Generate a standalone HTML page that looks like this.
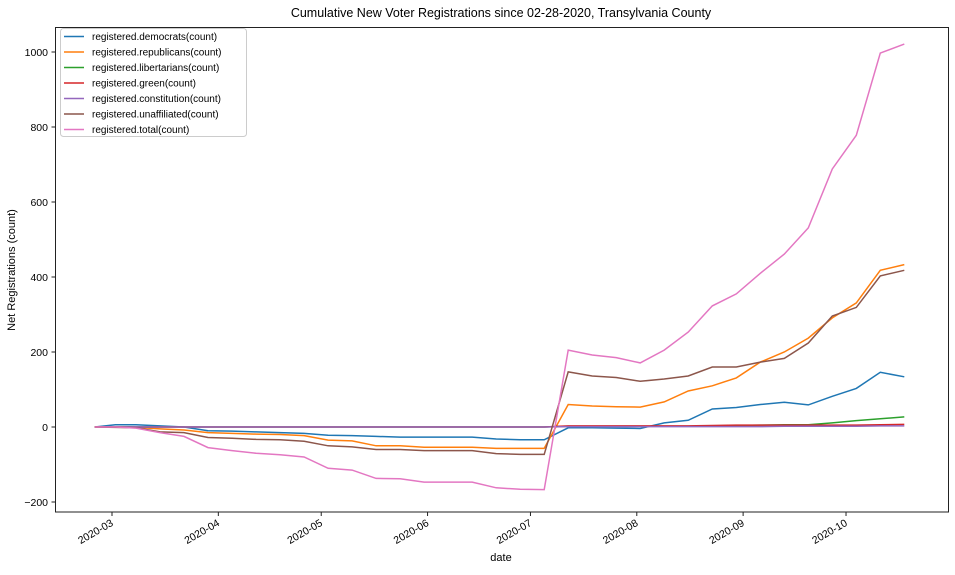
<!DOCTYPE html>
<html><head><meta charset="utf-8"><style>
body{margin:0;background:#fff;}
svg{font-family:"Liberation Sans","DejaVu Sans",sans-serif;}
</style></head><body>
<svg id="chart" width="955" height="570" xmlns="http://www.w3.org/2000/svg">
<rect width="955" height="570" fill="#fff"/>
<text x="501" y="17" text-anchor="middle" font-size="12.5">Cumulative New Voter Registrations since 02-28-2020, Transylvania County</text>
<g id="axes"></g>
<g id="series"></g>
<rect x="55.5" y="27.5" width="893" height="484.5" fill="none" stroke="#222" stroke-width="1"/>
<g id="legend"></g>
<text x="501" y="561" text-anchor="middle" font-size="11">date</text>
<text transform="translate(15,270) rotate(-90)" text-anchor="middle" font-size="11">Net Registrations (count)</text>
</svg>
<script>
// days offset from 2020-03-01
const days = [-5,1,7,14,21,28,35,42,49,56,63,70,77,84,91,98,105,112,119,126,133,140,147,154,161,168,175,182,189,196,203,210,217,224,231];
const seriesNames = ["registered.democrats(count)","registered.republicans(count)","registered.libertarians(count)","registered.green(count)","registered.constitution(count)","registered.unaffiliated(count)","registered.total(count)"];
const democrats = [0,6,6,3,0,-10,-11,-13,-15,-17,-22,-23,-25,-27,-27,-27,-27,-32,-34,-34,-2,-2,-3,-4,11,18,48,52,60,66,59,82,103,146,134];
const republicans = [0,0,-1,-5,-8,-15,-17,-19,-20,-23,-35,-37,-50,-50,-54,-54,-54,-57,-57,-57,60,56,54,53,67,96,110,131,173,200,237,291,331,418,433];
const libertarians = [0,0,0,0,0,0,0,0,0,0,0,0,0,0,0,0,0,0,0,0,2,2,2,2,2,2,3,4,5,6,6,11,17,22,27];
const green = [0,0,0,0,0,0,0,0,0,0,0,0,0,0,0,0,0,0,0,0,3,3,3,3,3,3,4,5,5,5,5,5,5,6,7];
const constitution = [0,0,0,0,0,0,0,0,0,0,0,0,0,0,0,0,0,0,0,0,1,1,1,1,1,1,1,1,1,2,2,2,2,3,3];
const unaffiliated = [0,-1,-2,-13,-15,-28,-30,-33,-34,-38,-50,-53,-60,-60,-63,-63,-63,-71,-73,-73,147,136,132,122,128,136,160,160,173,183,224,296,319,403,418];
const total = [0,0,-3,-15,-25,-55,-63,-70,-74,-80,-110,-115,-137,-138,-147,-147,-147,-162,-166,-167,205,192,185,171,205,253,323,355,410,461,531,688,778,997,1021];
const yTicks = [-200,0,200,400,600,800,1000];
const xTickDays = [0,31,61,92,122,153,184,214];
const xTickLabels = ["2020-03","2020-04","2020-05","2020-06","2020-07","2020-08","2020-09","2020-10"];
const colors = ["#1f77b4","#ff7f0e","#2ca02c","#d62728","#9467bd","#8c564b","#e377c2"];
const allSeries = [democrats,republicans,libertarians,green,constitution,unaffiliated,total];

const NS="http://www.w3.org/2000/svg";
function xs(d){return 112+d*3.43;}
function ys(v){return 427-v*0.375;}
function mk(tag,attrs,parent){const e=document.createElementNS(NS,tag);for(const k in attrs)e.setAttribute(k,attrs[k]);parent.appendChild(e);return e;}
const axes=document.getElementById('axes');
yTicks.forEach(v=>{
  const y=ys(v);
  const t=mk('line',{x1:51.5,x2:55.5,y1:y,y2:y,stroke:'#222'},axes);
  
  
  const l=mk('text',{x:48,y:y+4,'text-anchor':'end','font-size':'10.5'},axes);
  l.textContent=String(v).replace('-','\u2212');
  
  
});
xTickDays.forEach((d,i)=>{
  const x=xs(d);
  const t=mk('line',{x1:x,x2:x,y1:512,y2:516,stroke:'#222'},axes);
  
  
  const l=mk('text',{transform:`translate(${x+2},${525}) rotate(-30)`,'text-anchor':'end','font-size':'10.5'},axes);
  l.textContent=xTickLabels[i];
  
  
});
const sg=document.getElementById('series');
allSeries.forEach((s,i)=>{
  const pts=s.map((v,j)=>xs(days[j]).toFixed(1)+','+ys(v).toFixed(1)).join(' ');
  const p=mk('polyline',{points:pts,fill:'none',stroke:colors[i],'stroke-width':1.5},sg);
  
  
});
const lg=document.getElementById('legend');
const box=mk('rect',{x:60.5,y:28.5,width:186,height:108,rx:3,fill:'#fff','fill-opacity':0.8,stroke:'#ccc'},lg);


seriesNames.forEach((n,i)=>{
  const y=36.5+i*15.5;
  const ln=mk('line',{x1:64,x2:84,y1:y,y2:y,stroke:colors[i],'stroke-width':1.5},lg);
  
  
  const t=mk('text',{x:92,y:y+3.5,'font-size':'10'},lg);
  t.textContent=n;
  
  
});
</script>
</body></html>
